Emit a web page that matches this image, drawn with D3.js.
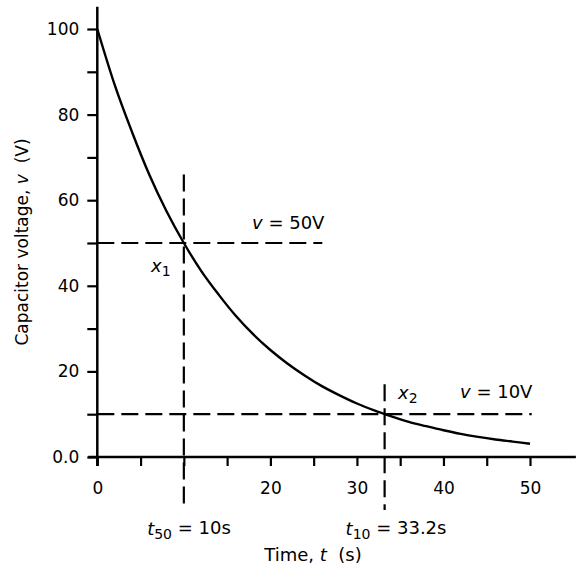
<!DOCTYPE html>
<html><head><meta charset="utf-8">
<script src="https://cdn.jsdelivr.net/npm/d3@7/dist/d3.min.js"></script>
<style>
body{margin:0;background:#fff;}
svg text{font-family:"DejaVu Sans","Liberation Sans",Arial,sans-serif;fill:#000;}
</style></head><body>
<svg id="c" width="580" height="577"></svg>
<script>
// Data
const timeValues = [0,2,4,6,8,10,12,14,16,18,20,22,24,26,28,30,32,34,36,38,40,42,44,46,48,50];
const voltageValues = [100,87,76,66,57.4,50,43.5,38,33,28.7,25,21.8,19,16.5,14.4,12.5,10.9,9.5,8.2,7.2,6.25,5.4,4.7,4.1,3.6,3.1];
const xTicks = [0,5,10,15,20,25,30,35,40,45,50];
const xTickLabels = ["0","","","","20","","30","","40","","50"];
const yTicks = [0,10,20,30,40,50,60,70,80,90,100];
const yTickLabels = ["0.0","","20","","40","","60","","80","","100"];
const levelValues = [50,10];           // horizontal guide levels (V)
const levelEnds = [26,50.2];           // t where each horizontal guide stops
const crossTimes = [10,33.2];          // vertical guide times (s)
const crossTops = [66,17];             // v where each vertical guide starts

const svg = d3.select("#c");
const x = d3.scaleLinear().domain([0,50]).range([97.3,530]);
const y = d3.scaleLinear().domain([0,100]).range([457,29]);
const FS = 17, AFS = 18;

// Y axis
const yAxis = d3.axisLeft(y).tickValues(yTicks).tickSize(10).tickPadding(8)
  .tickFormat((d,i)=>yTickLabels[i]);
const gy = svg.append("g").attr("transform",`translate(${x(0)},0)`).call(yAxis);
gy.select(".domain").remove();
gy.selectAll(".tick line").attr("stroke","#000").attr("stroke-width",2.2);
gy.selectAll(".tick text").style("font-size",FS+"px").style("font-family","DejaVu Sans");
svg.append("line").attr("x1",x(0)).attr("x2",x(0)).attr("y1",y(105.2)).attr("y2",y(0)+9)
  .attr("stroke","#000").attr("stroke-width",2.5);

// X axis
const xAxis = d3.axisBottom(x).tickValues(xTicks).tickSize(9).tickPadding(16)
  .tickFormat((d,i)=>xTickLabels[i]);
const gx = svg.append("g").attr("transform",`translate(0,${y(0)})`).call(xAxis);
gx.select(".domain").remove();
gx.selectAll(".tick line").attr("stroke","#000").attr("stroke-width",2.2);
gx.selectAll(".tick text").style("font-size",FS+"px").style("font-family","DejaVu Sans");
svg.append("line").attr("x1",x(0)-9).attr("x2",x(55.3)).attr("y1",y(0)).attr("y2",y(0))
  .attr("stroke","#000").attr("stroke-width",2.5);

// Guide lines
const dash = "17,7";
levelValues.forEach((v,i)=>{
  svg.append("line").attr("x1",x(0)).attr("x2",x(levelEnds[i])).attr("y1",y(v)).attr("y2",y(v))
    .attr("stroke","#000").attr("stroke-width",2.2).attr("stroke-dasharray",dash);
});
crossTimes.forEach((t,i)=>{
  svg.append("line").attr("x1",x(t)).attr("x2",x(t)).attr("y1",y(crossTops[i])).attr("y2",y(0)+53)
    .attr("stroke","#000").attr("stroke-width",2.2).attr("stroke-dasharray",dash);
});

// Curve
const line = d3.line().x((d,i)=>x(timeValues[i])).y(d=>y(d)).curve(d3.curveMonotoneX);
svg.append("path").datum(voltageValues).attr("d",line).attr("fill","none")
  .attr("stroke","#000").attr("stroke-width",2.4);

// Annotations
function label(px,py,parts,anchor){
  const t = svg.append("text").attr("x",px).attr("y",py).style("font-size",AFS+"px")
    .attr("text-anchor",anchor||"start").attr("xml:space","preserve");
  parts.forEach(p=>{
    const s = t.append("tspan").text(p.t);
    if(p.i) s.style("font-style","italic");
    if(p.sub) s.attr("dy","0.28em").style("font-size",(AFS-4)+"px");
    if(p.up) s.attr("dy","-0.28em");
  });
  return t;
}
label(252,229,[{t:"v",i:1},{t:" = 50V"}]);
label(460,398,[{t:"v",i:1},{t:" = 10V"}]);
label(151,272,[{t:"x",i:1},{t:"1",sub:1}]);
label(398,399,[{t:"x",i:1},{t:"2",sub:1}]);
label(189,535,[{t:"t",i:1},{t:"50",sub:1},{t:" = 10s",up:1}],"middle");
label(396,535,[{t:"t",i:1},{t:"10",sub:1},{t:" = 33.2s",up:1}],"middle");
label(313,561,[{t:"Time, "},{t:"t",i:1},{t:"  (s)"}],"middle");
svg.append("text").attr("transform",`translate(28,242) rotate(-90)`).attr("text-anchor","middle")
  .style("font-size",FS+"px").attr("xml:space","preserve")
  .call(t=>{t.append("tspan").text("Capacitor voltage, ");t.append("tspan").style("font-style","italic").text("v");t.append("tspan").text("  (V)");});
</script></body></html>
